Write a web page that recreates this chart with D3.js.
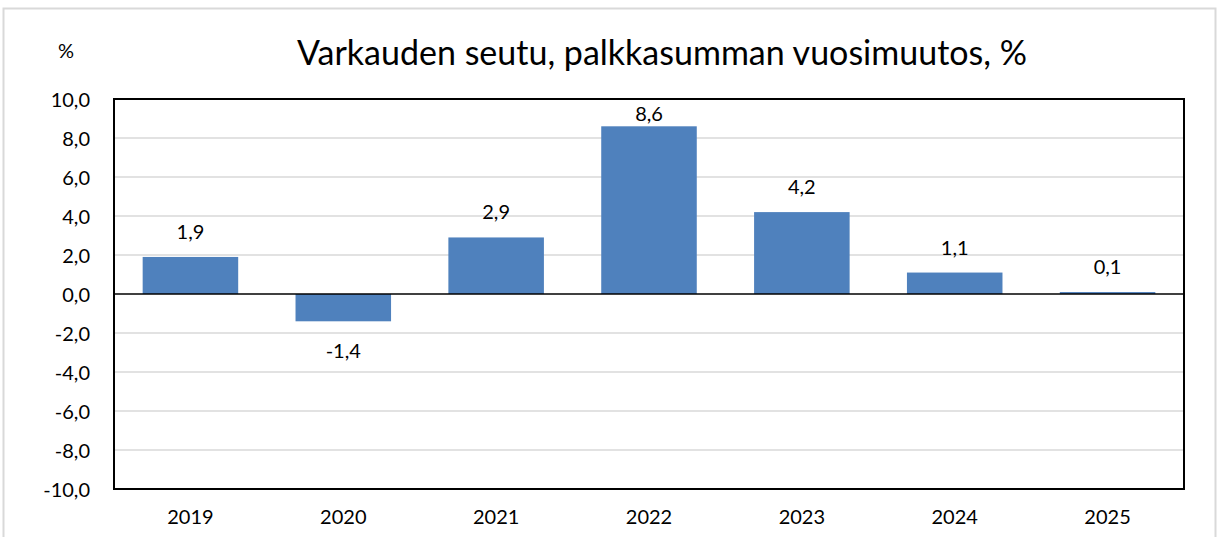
<!DOCTYPE html>
<html><head><meta charset="utf-8">
<script src="https://cdn.jsdelivr.net/npm/d3@7"></script>
<style>
html,body{margin:0;padding:0;background:#fff;}
svg{display:block;font-family:Lato, "Open Sans", sans-serif;}
</style></head>
<body>
<svg id="c" width="1223" height="537"></svg>
<script>
const years = ["2019","2020","2021","2022","2023","2024","2025"];
const values = [1.9, -1.4, 2.9, 8.6, 4.2, 1.1, 0.1];
const yTicks = [-10,-8,-6,-4,-2,0,2,4,6,8,10];
const title = "Varkauden seutu, palkkasumman vuosimuutos, %";
const unit = "%";

const svg = d3.select("#c");
const m = {left:114, right:1184, top:99, bottom:489};

// outer frame
svg.append("rect").attr("x",3.5).attr("y",8.5).attr("width",1212).attr("height",540)
  .attr("fill","none").attr("stroke","#d9d9d9").attr("stroke-width",2);

const x = d3.scaleBand().domain(years).range([m.left,m.right]).paddingInner(0.375).paddingOuter(0.1875);
const y = d3.scaleLinear().domain([-10,10]).range([m.bottom,m.top]);
const fmt = v => d3.format(".1f")(v).replace(".",",").replace("−","-");

// gridlines
svg.append("g").selectAll("line").data(yTicks.filter(t=>t!==0 && t!==10 && t!==-10)).join("line")
  .attr("x1",m.left).attr("x2",m.right).attr("y1",d=>y(d)).attr("y2",d=>y(d))
  .attr("stroke","#d9d9d9").attr("stroke-width",1.5);

// y axis labels
const yAxis = d3.axisLeft(y).tickValues(yTicks).tickSize(0).tickPadding(24).tickFormat(fmt);
const ga = svg.append("g").attr("transform",`translate(${m.left},0)`).call(yAxis);
ga.select(".domain").remove();
ga.selectAll("text").attr("font-size",20).attr("font-family","Lato").attr("fill","#000").attr("dy","0.35em");

// bars
svg.append("g").selectAll("rect").data(values).join("rect")
  .attr("x",(d,i)=>x(years[i])).attr("width",x.bandwidth())
  .attr("y",d=>y(Math.max(0,d))).attr("height",d=>Math.abs(y(d)-y(0)))
  .attr("fill","#4f81bd");

// zero line
svg.append("line").attr("x1",m.left).attr("x2",m.right).attr("y1",y(0)).attr("y2",y(0))
  .attr("stroke","#000").attr("stroke-width",1.5);

// plot border
svg.append("rect").attr("x",m.left).attr("y",m.top).attr("width",m.right-m.left).attr("height",m.bottom-m.top)
  .attr("fill","none").attr("stroke","#000").attr("stroke-width",2);

// data labels
svg.append("g").selectAll("text").data(values).join("text")
  .attr("x",(d,i)=>x(years[i])+x.bandwidth()/2)
  .attr("y",d=> d>=0 ? Math.max(y(d)-18, m.top+22) : y(d)+37)
  .attr("text-anchor","middle").attr("font-size",20).attr("fill","#000")
  .text(d=>fmt(d));

// x labels
const xAxis = d3.axisBottom(x).tickSize(0).tickPadding(21);
const gx = svg.append("g").attr("transform",`translate(0,${m.bottom})`).call(xAxis);
gx.select(".domain").remove();
gx.selectAll("text").attr("font-size",20).attr("font-family","Lato").attr("fill","#000");

// title
svg.append("text").attr("x",662).attr("y",65).attr("text-anchor","middle")
  .attr("font-size",34).attr("fill","#000").text(title);
svg.append("text").attr("x",66).attr("y",58).attr("text-anchor","middle")
  .attr("font-size",20).attr("fill","#000").text(unit);
</script>
</body></html>
